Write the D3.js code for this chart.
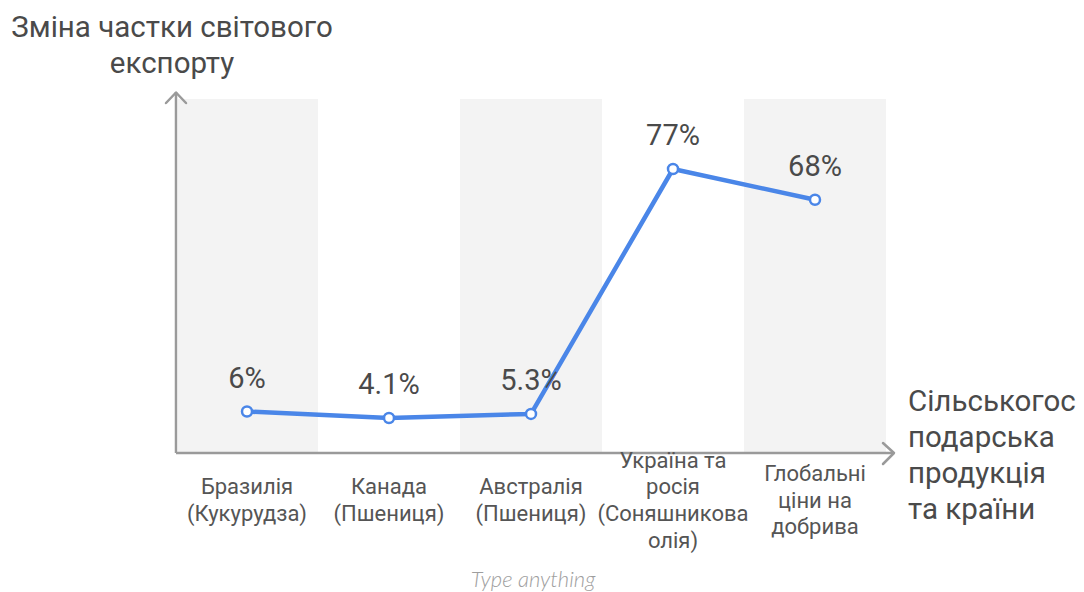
<!DOCTYPE html>
<html><head><meta charset="utf-8">
<script src="https://cdn.jsdelivr.net/npm/d3@7"></script>
<style>body{margin:0;background:#fff;}svg{display:block;}</style>
</head><body>
<svg id="c" width="1084" height="592"></svg>
<script>
const categories = [
  ["Бразилія","(Кукурудза)"],
  ["Канада","(Пшениця)"],
  ["Австралія","(Пшениця)"],
  ["Україна та","росія","(Соняшникова","олія)"],
  ["Глобальні","ціни на","добрива"]
];
const values = [6, 4.1, 5.3, 77, 68];
const valueLabels = ["6%","4.1%","5.3%","77%","68%"];
const yTitle = ["Зміна частки світового","експорту"];
const xTitle = ["Сільськогос","подарська","продукція","та країни"];
const footer = "Type anything";

const svg = d3.select("#c");
const font = "Roboto, 'Noto Sans', sans-serif";
const idx = d3.range(categories.length);
const x = d3.scaleBand().domain(idx).range([176, 886]).padding(0);
const y = d3.scaleLinear().domain([0, 77]).range([432, 169]);
const baseY = 453, bandTop = 99;

// bands
svg.append("g").selectAll("rect").data(idx.filter(i => i % 2 === 0)).join("rect")
  .attr("x", i => x(i) + (i === 0 ? 2 : 0)).attr("y", bandTop)
  .attr("width", i => x.bandwidth() - (i === 0 ? 2 : 0)).attr("height", baseY - bandTop)
  .attr("fill", "#f3f3f3");

// axes
const axisCol = "#9a9a9a";
svg.append("line").attr("x1",176).attr("y1",baseY).attr("x2",176).attr("y2",92)
  .attr("stroke",axisCol).attr("stroke-width",2.5);
svg.append("line").attr("x1",176).attr("y1",baseY).attr("x2",894).attr("y2",baseY)
  .attr("stroke",axisCol).attr("stroke-width",2.5);
svg.append("path").attr("d","M166,103 L176,92.5 L186,103").attr("fill","none")
  .attr("stroke",axisCol).attr("stroke-width",2.5).attr("stroke-linecap","round").attr("stroke-linejoin","round");
svg.append("path").attr("d","M883,443 L894,453 L883,464").attr("fill","none")
  .attr("stroke",axisCol).attr("stroke-width",2.5).attr("stroke-linecap","round").attr("stroke-linejoin","round");

// line
const cx = i => x(i) + x.bandwidth()/2;
const line = d3.line().x((d,i) => cx(i)).y(d => y(d));
svg.append("path").datum(values).attr("d", line).attr("fill","none")
  .attr("stroke","#4a86e8").attr("stroke-width",4.5).attr("stroke-linejoin","round");
svg.append("g").selectAll("circle").data(values).join("circle")
  .attr("cx",(d,i)=>cx(i)).attr("cy",d=>y(d)).attr("r",5)
  .attr("fill","#fff").attr("stroke","#4a86e8").attr("stroke-width",2.5);

// value labels
svg.append("g").selectAll("text").data(values).join("text")
  .attr("x",(d,i)=>cx(i)).attr("y",d=>y(d)-24)
  .attr("text-anchor","middle").attr("font-family",font).attr("font-size",29)
  .attr("fill","#4a4a4a").text((d,i)=>valueLabels[i]);

// category labels
const lh = 26.7;
const cg = svg.append("g");
categories.forEach((lines, i) => {
  const t = cg.append("text").attr("text-anchor","middle").attr("font-family",font)
    .attr("font-size",22).attr("fill","#555");
  const y0 = 500 - (lines.length - 1) * lh / 2;
  lines.forEach((s, k) => t.append("tspan").attr("x", cx(i)).attr("y", y0 + k*lh).attr("dy","0.35em").text(s));
});

// y title
const yt = svg.append("text").attr("text-anchor","middle").attr("font-family",font)
  .attr("font-size",29.5).attr("fill","#4a4a4a");
yTitle.forEach((s,k)=> yt.append("tspan").attr("x",172).attr("y",27 + k*35.5).attr("dy","0.35em").text(s));

// x title
const xt = svg.append("text").attr("text-anchor","start").attr("font-family",font)
  .attr("font-size",29.5).attr("fill","#4a4a4a");
xTitle.forEach((s,k)=> xt.append("tspan").attr("x",908).attr("y",401 + k*36).attr("dy","0.35em").text(s));

// footer
svg.append("text").attr("x",533).attr("y",579).attr("dy","0.35em").attr("text-anchor","middle")
  .attr("font-family","Lato, 'Open Sans', sans-serif").attr("font-style","italic").attr("font-weight",300)
  .attr("font-size",22).attr("fill","#9e9e9e").text(footer);
</script>
</body></html>
